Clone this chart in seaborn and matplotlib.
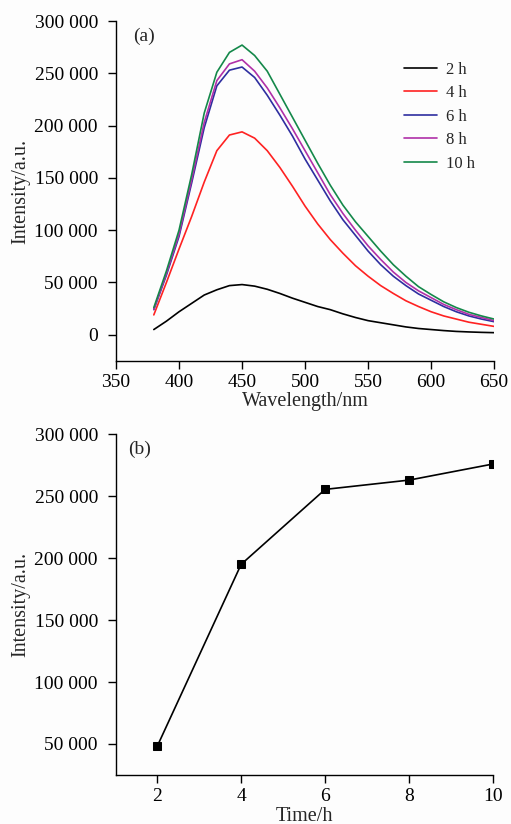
import numpy as np
import pandas as pd
import matplotlib
matplotlib.use("Agg")
import matplotlib.pyplot as plt
from matplotlib.ticker import FuncFormatter, MultipleLocator
import seaborn as sns

# Emission spectra, every 10 nm from 380 to 650 nm
wavelength = list(range(380, 651, 10))

int_2h = [5000, 13000, 22000, 30000, 38000, 43000, 47000, 48000, 46500, 43500,
          39500, 35000, 31000, 27000, 24000, 20000, 16500, 13500, 11500, 9500,
          7500, 6000, 5000, 4000, 3200, 2700, 2300, 2000]
int_4h = [19000, 50000, 82000, 113000, 146000, 176000, 191000, 194000, 188000, 176000,
          160000, 142000, 123000, 106000, 91000, 78000, 66000, 56000, 47000, 39500,
          32500, 27000, 22000, 18000, 15000, 12000, 10000, 8000]
int_6h = [24000, 57000, 94000, 145000, 198000, 238000, 253000, 256000, 246000, 229000,
          210000, 190000, 168000, 148000, 128000, 110000, 95000, 80000, 67000, 56000,
          47000, 39000, 33000, 27000, 22000, 18000, 15000, 12500]
int_8h = [24500, 58500, 96000, 148000, 203000, 243000, 259000, 263000, 252000, 236000,
          217000, 197000, 176000, 155000, 134000, 116000, 100000, 85000, 72000, 60000,
          50000, 42000, 35500, 29000, 24000, 19500, 16500, 13500]
int_10h = [26000, 61000, 100000, 153000, 212000, 251000, 270000, 277000, 267000, 252000,
           230000, 208000, 186000, 164000, 143000, 124000, 108000, 94000, 80000, 67000,
           56000, 46000, 38500, 31500, 26000, 21500, 18000, 15000]

series_labels = ["2 h", "4 h", "6 h", "8 h", "10 h"]
series_colors = ["#000000", "#ff2222", "#2e2ea0", "#b030a8", "#14884a"]

# Peak intensity vs. reaction time, panel (b)
time_h = [2, 4, 6, 8, 10]
peak_intensity = [48000, 195000, 255500, 263000, 276000]

spectra = pd.DataFrame({
    "wavelength": wavelength * 5,
    "intensity": int_2h + int_4h + int_6h + int_8h + int_10h,
    "time": sum([[lab] * len(wavelength) for lab in series_labels], []),
})
peaks = pd.DataFrame({"time": time_h, "intensity": peak_intensity})

sns.set_style("ticks")
plt.rcParams["font.family"] = ["Liberation Serif", "DejaVu Serif"]
plt.rcParams["font.size"] = 14

fig = plt.figure(figsize=(5.11, 8.24), dpi=100, facecolor="#fdfdfd")
ax1 = fig.add_axes([0.227, 0.562, 0.740, 0.4125])
ax2 = fig.add_axes([0.227, 0.0595, 0.738, 0.4135])

space_fmt = FuncFormatter(lambda v, pos: f"{v:,.0f}".replace(",", " "))

# (a) spectra
sns.lineplot(data=spectra, x="wavelength", y="intensity", hue="time",
             palette=series_colors, hue_order=series_labels, linewidth=1.2, ax=ax1)
ax1.set_xlim(350, 650)
ax1.set_ylim(-25000, 300000)
ax1.xaxis.set_major_locator(MultipleLocator(50))
ax1.set_yticks(range(0, 300001, 50000))
ax1.yaxis.set_major_formatter(space_fmt)
ax1.set_xlabel("Wavelength/nm", fontsize=14.5, labelpad=1)
ax1.set_ylabel("Intensity/a.u.", fontsize=14.5, labelpad=3)
ax1.text(0.045, 0.955, "(a)", transform=ax1.transAxes, fontsize=14, va="center")
ax1.legend(loc="upper left", bbox_to_anchor=(0.762, 0.88), frameon=False,
           fontsize=12, handlelength=2.0, handletextpad=0.5, labelspacing=0.45,
           borderpad=0, borderaxespad=0)

# (b) peak intensity
sns.lineplot(data=peaks, x="time", y="intensity", color="black", marker="s",
             markersize=5.5, markeredgecolor="black", linewidth=1.2, ax=ax2)
ax2.set_xlim(1.02, 10)
ax2.set_ylim(25000, 300000)
ax2.set_xticks(time_h)
ax2.set_yticks(range(50000, 300001, 50000))
ax2.yaxis.set_major_formatter(space_fmt)
ax2.set_xlabel("Time/h", fontsize=14.5, labelpad=1)
ax2.set_ylabel("Intensity/a.u.", fontsize=14.5, labelpad=3)
ax2.text(0.032, 0.955, "(b)", transform=ax2.transAxes, fontsize=14, va="center")

for ax in (ax1, ax2):
    ax.set_facecolor("#fdfdfd")
    sns.despine(ax=ax)
    for side in ("left", "bottom"):
        ax.spines[side].set_linewidth(1.0)
        ax.spines[side].set_color("black")
    ax.tick_params(direction="out", length=6, width=1.0, labelsize=14, colors="black")
    ax.tick_params(axis="y", pad=7)

fig.savefig("out.png", dpi=100, facecolor=fig.get_facecolor())
